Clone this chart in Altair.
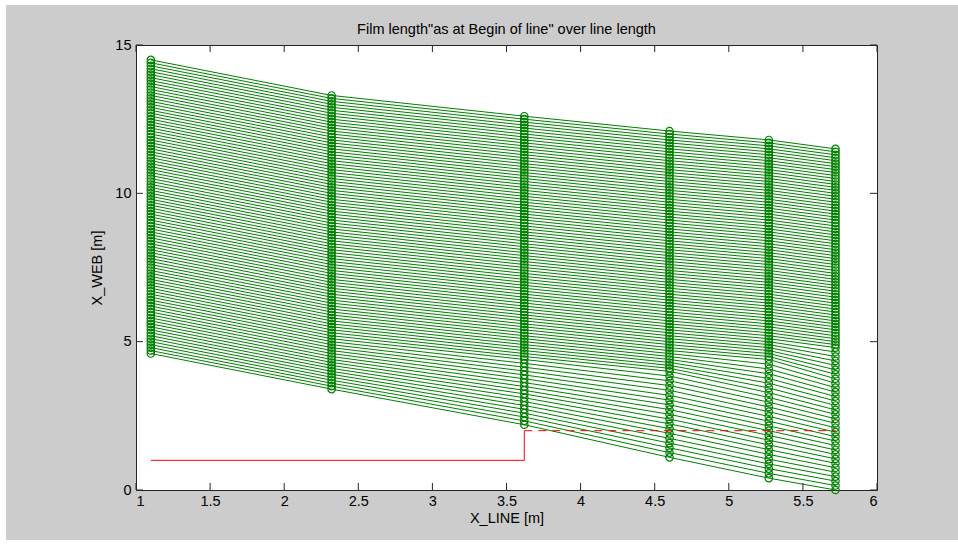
import altair as alt
import pandas as pd

TITLE = 'Film length"as at Begin of line" over line length'
X_TITLE = "X_LINE [m]"
Y_TITLE = "X_WEB [m]"

# stations along the line
X_LINE = [1.1, 2.32, 3.62, 4.6, 5.27, 5.72]

# X_WEB values of each film point (bottom to top) at each station
WEB_AT_1 = [
    4.6, 4.7, 4.8, 4.9, 5.0, 5.1, 5.2, 5.3, 5.4, 5.5,
    5.6, 5.7, 5.8, 5.9, 6.0, 6.1, 6.2, 6.3, 6.4, 6.5,
    6.6, 6.7, 6.8, 6.9, 7.0, 7.1, 7.2, 7.3, 7.4, 7.5,
    7.6, 7.7, 7.8, 7.9, 8.0, 8.1, 8.2, 8.3, 8.4, 8.5,
    8.6, 8.7, 8.8, 8.9, 9.0, 9.1, 9.2, 9.3, 9.4, 9.5,
    9.6, 9.7, 9.8, 9.9, 10.0, 10.1, 10.2, 10.3, 10.4, 10.5,
    10.6, 10.7, 10.8, 10.9, 11.0, 11.1, 11.2, 11.3, 11.4, 11.5,
    11.6, 11.7, 11.8, 11.9, 12.0, 12.1, 12.2, 12.3, 12.4, 12.5,
    12.6, 12.7, 12.8, 12.9, 13.0, 13.1, 13.2, 13.3, 13.4, 13.5,
    13.6, 13.7, 13.8, 13.9, 14.0, 14.1, 14.2, 14.3, 14.4, 14.5,
]
WEB_AT_2 = [
    3.4, 3.5, 3.6, 3.7, 3.8, 3.9, 4.0, 4.1, 4.2, 4.3,
    4.4, 4.5, 4.6, 4.7, 4.8, 4.9, 5.0, 5.1, 5.2, 5.3,
    5.4, 5.5, 5.6, 5.7, 5.8, 5.9, 6.0, 6.1, 6.2, 6.3,
    6.4, 6.5, 6.6, 6.7, 6.8, 6.9, 7.0, 7.1, 7.2, 7.3,
    7.4, 7.5, 7.6, 7.7, 7.8, 7.9, 8.0, 8.1, 8.2, 8.3,
    8.4, 8.5, 8.6, 8.7, 8.8, 8.9, 9.0, 9.1, 9.2, 9.3,
    9.4, 9.5, 9.6, 9.7, 9.8, 9.9, 10.0, 10.1, 10.2, 10.3,
    10.4, 10.5, 10.6, 10.7, 10.8, 10.9, 11.0, 11.1, 11.2, 11.3,
    11.4, 11.5, 11.6, 11.7, 11.8, 11.9, 12.0, 12.1, 12.2, 12.3,
    12.4, 12.5, 12.6, 12.7, 12.8, 12.9, 13.0, 13.1, 13.2, 13.3,
]
WEB_AT_3 = [
    2.20, 2.33, 2.46, 2.59, 2.72, 2.85, 2.98, 3.11, 3.24, 3.36,
    3.49, 3.62, 3.75, 3.88, 4.01, 4.14, 4.27,
    4.4, 4.5, 4.6, 4.7, 4.8, 4.9, 5.0, 5.1, 5.2, 5.3,
    5.4, 5.5, 5.6, 5.7, 5.8, 5.9, 6.0, 6.1, 6.2, 6.3,
    6.4, 6.5, 6.6, 6.7, 6.8, 6.9, 7.0, 7.1, 7.2, 7.3,
    7.4, 7.5, 7.6, 7.7, 7.8, 7.9, 8.0, 8.1, 8.2, 8.3,
    8.4, 8.5, 8.6, 8.7, 8.8, 8.9, 9.0, 9.1, 9.2, 9.3,
    9.4, 9.5, 9.6, 9.7, 9.8, 9.9, 10.0, 10.1, 10.2, 10.3,
    10.4, 10.5, 10.6, 10.7, 10.8, 10.9, 11.0, 11.1, 11.2, 11.3,
    11.4, 11.5, 11.6, 11.7, 11.8, 11.9, 12.0, 12.1, 12.2, 12.3,
    12.4, 12.5, 12.6,
]
WEB_AT_4 = [
    1.10, 1.26, 1.42, 1.58, 1.74, 1.91, 2.07, 2.23, 2.39, 2.55,
    2.71, 2.87, 3.03, 3.19, 3.36, 3.52, 3.68, 3.84,
    4.0, 4.1, 4.2, 4.3, 4.4, 4.5, 4.6, 4.7, 4.8, 4.9,
    5.0, 5.1, 5.2, 5.3, 5.4, 5.5, 5.6, 5.7, 5.8, 5.9,
    6.0, 6.1, 6.2, 6.3, 6.4, 6.5, 6.6, 6.7, 6.8, 6.9,
    7.0, 7.1, 7.2, 7.3, 7.4, 7.5, 7.6, 7.7, 7.8, 7.9,
    8.0, 8.1, 8.2, 8.3, 8.4, 8.5, 8.6, 8.7, 8.8, 8.9,
    9.0, 9.1, 9.2, 9.3, 9.4, 9.5, 9.6, 9.7, 9.8, 9.9,
    10.0, 10.1, 10.2, 10.3, 10.4, 10.5, 10.6, 10.7, 10.8, 10.9,
    11.0, 11.1, 11.2, 11.3, 11.4, 11.5, 11.6, 11.7, 11.8, 11.9,
    12.0, 12.1,
]
WEB_AT_5 = [
    0.40, 0.56, 0.72, 0.88, 1.04, 1.20, 1.36, 1.52, 1.68, 1.84,
    2.00, 2.16, 2.32, 2.48, 2.64, 2.80, 2.96, 3.12, 3.28, 3.44,
    3.60, 3.76, 3.92, 4.08, 4.24,
    4.4, 4.5, 4.6, 4.7, 4.8, 4.9, 5.0, 5.1, 5.2, 5.3,
    5.4, 5.5, 5.6, 5.7, 5.8, 5.9, 6.0, 6.1, 6.2, 6.3,
    6.4, 6.5, 6.6, 6.7, 6.8, 6.9, 7.0, 7.1, 7.2, 7.3,
    7.4, 7.5, 7.6, 7.7, 7.8, 7.9, 8.0, 8.1, 8.2, 8.3,
    8.4, 8.5, 8.6, 8.7, 8.8, 8.9, 9.0, 9.1, 9.2, 9.3,
    9.4, 9.5, 9.6, 9.7, 9.8, 9.9, 10.0, 10.1, 10.2, 10.3,
    10.4, 10.5, 10.6, 10.7, 10.8, 10.9, 11.0, 11.1, 11.2, 11.3,
    11.4, 11.5, 11.6, 11.7, 11.8,
]
WEB_AT_6 = [
    0.0, 0.15, 0.3, 0.45, 0.6, 0.75, 0.9, 1.05, 1.2, 1.35,
    1.5, 1.65, 1.8, 1.95, 2.1, 2.25, 2.4, 2.55, 2.7, 2.85,
    3.0, 3.15, 3.3, 3.45, 3.6, 3.75, 3.9, 4.05, 4.2, 4.35,
    4.5, 4.65,
    4.8, 4.9, 5.0, 5.1, 5.2, 5.3, 5.4, 5.5, 5.6, 5.7,
    5.8, 5.9, 6.0, 6.1, 6.2, 6.3, 6.4, 6.5, 6.6, 6.7,
    6.8, 6.9, 7.0, 7.1, 7.2, 7.3, 7.4, 7.5, 7.6, 7.7,
    7.8, 7.9, 8.0, 8.1, 8.2, 8.3, 8.4, 8.5, 8.6, 8.7,
    8.8, 8.9, 9.0, 9.1, 9.2, 9.3, 9.4, 9.5, 9.6, 9.7,
    9.8, 9.9, 10.0, 10.1, 10.2, 10.3, 10.4, 10.5, 10.6, 10.7,
    10.8, 10.9, 11.0, 11.1, 11.2, 11.3, 11.4, 11.5,
]
COLS = [WEB_AT_1, WEB_AT_2, WEB_AT_3, WEB_AT_4, WEB_AT_5, WEB_AT_6]

# red limit line
RED_X = [1.1, 3.62, 3.62]
RED_Y = [1.0, 1.0, 2.0]
DASH_X = [3.62, 5.72]
DASH_Y = [2.0, 2.0]

X_TICKS = [1, 1.5, 2, 2.5, 3, 3.5, 4, 4.5, 5, 5.5, 6]
Y_TICKS = [0, 5, 10, 15]

for c in COLS:
    assert len(c) == 100, len(c)

rows = []
for j, (xv, col) in enumerate(zip(X_LINE, COLS)):
    for k, yv in enumerate(col):
        rows.append({"line": k, "x": xv, "y": yv, "step": j})
df = pd.DataFrame(rows)
red_df = pd.DataFrame({"x": RED_X, "y": RED_Y, "i": list(range(len(RED_X)))})
dash_df = pd.DataFrame({"x": DASH_X, "y": DASH_Y, "i": list(range(len(DASH_X)))})
xt_df = pd.DataFrame({"x": X_TICKS})
yt_df = pd.DataFrame({"y": Y_TICKS})
one = pd.DataFrame({"a": [0]})

W, H = 741, 445
PL, PT, PR, PB = 136, 45, 81, 55
FONT = "Liberation Sans"
FS = 14.5
AX = "#262626"
GREEN = "#008000"

xs = alt.Scale(domain=[1, 6], nice=False, zero=False)
ys = alt.Scale(domain=[0, 15], nice=False, zero=False)

x_axis = alt.Axis(values=X_TICKS, format="~g", ticks=False, domain=False, grid=False,
                  labelFont=FONT, labelFontSize=FS, labelColor="black", labelPadding=4,
                  labelOverlap=False,
                  title=X_TITLE, titleFont=FONT, titleFontSize=FS, titleFontWeight="normal",
                  titleColor="black", titlePadding=4)
y_axis = alt.Axis(values=Y_TICKS, format="~g", ticks=False, domain=False, grid=False,
                  labelFont=FONT, labelFontSize=FS, labelColor="black", labelPadding=5,
                  labelOverlap=False,
                  title=Y_TITLE, titleFont=FONT, titleFontSize=FS, titleFontWeight="normal",
                  titleColor="black", titlePadding=10)

X = alt.X("x:Q", scale=xs, axis=x_axis)
Y = alt.Y("y:Q", scale=ys, axis=y_axis)

# thin white margins of the figure window (left, top, bottom)
edge_l = alt.Chart(one).mark_rect(color="white").encode(
    x=alt.value(-PL), x2=alt.value(-PL + 6), y=alt.value(-PT), y2=alt.value(H + PB))
edge_t = alt.Chart(one).mark_rect(color="white").encode(
    x=alt.value(-PL), x2=alt.value(W + PR), y=alt.value(-PT), y2=alt.value(-PT + 5))
edge_b = alt.Chart(one).mark_rect(color="white").encode(
    x=alt.value(-PL), x2=alt.value(W + PR), y=alt.value(H + PB - 5), y2=alt.value(H + PB))

title = alt.Chart(one).mark_text(font=FONT, fontSize=FS, color="black", align="center",
                                 baseline="middle").encode(
    x=alt.value(W / 2), y=alt.value(-15), text=alt.value(TITLE))

lines = alt.Chart(df).mark_line(color=GREEN, strokeWidth=1).encode(
    x=X, y=Y, detail="line:N", order="step:Q")
points = alt.Chart(df).mark_point(shape="circle", filled=False, color=GREEN, size=55,
                                   strokeWidth=1.2, opacity=1).encode(x=X, y=Y)
red = alt.Chart(red_df).mark_line(color="#ff0000", strokeWidth=1).encode(
    x=X, y=Y, order="i:Q")
dash = alt.Chart(dash_df).mark_line(color="#ff0000", strokeWidth=1, strokeDash=[8, 6]).encode(
    x=X, y=Y, order="i:Q")

TL = 7
xb = alt.Chart(xt_df).mark_rule(color=AX, strokeWidth=1).encode(
    x=X, y=alt.value(H), y2=alt.value(H - TL))
xtop = alt.Chart(xt_df).mark_rule(color=AX, strokeWidth=1).encode(
    x=X, y=alt.value(0), y2=alt.value(TL))
yl = alt.Chart(yt_df).mark_rule(color=AX, strokeWidth=1).encode(
    y=Y, x=alt.value(0), x2=alt.value(TL))
yr = alt.Chart(yt_df).mark_rule(color=AX, strokeWidth=1).encode(
    y=Y, x=alt.value(W - TL), x2=alt.value(W))

chart = alt.layer(edge_l, edge_t, edge_b, title, lines, points, red, dash,
                  xb, xtop, yl, yr).properties(
    width=W, height=H,
    autosize=alt.AutoSizeParams(type="none"),
    padding={"left": PL, "top": PT, "right": PR, "bottom": PB},
    background="#cccccc",
).configure_view(stroke=AX, strokeWidth=1, fill="white")

chart.save("out.html", embed_options={"renderer": "svg", "actions": False})
